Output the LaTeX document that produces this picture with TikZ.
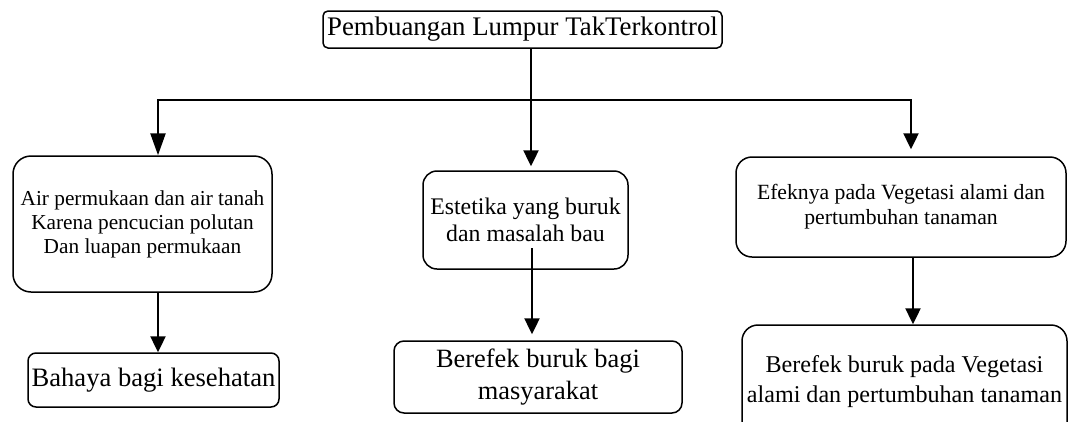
\documentclass[tikz,border=0pt]{standalone}
\usepackage{fontspec}
\setmainfont{Liberation Serif}
\usetikzlibrary{arrows.meta}
\begin{document}
\begin{tikzpicture}[x=1pt,y=-1pt,
  box/.style={draw,line width=1.5pt,align=center,inner sep=0pt,anchor=center},
  conn/.style={line width=2.4pt},
  arr/.style={line width=2.4pt,-{Triangle[width=15pt,length=16pt]}}]
\useasboundingbox (0,0) rectangle (1069,421);
\node[box,rounded corners=5pt,minimum width=399pt,minimum height=37pt,
  font=\fontsize{26.8}{29}\selectfont] (top) at (522.5,29.5) {Pembuangan Lumpur TakTerkontrol};
\node[box,rounded corners=18pt,minimum width=259pt,minimum height=136pt,
  font=\fontsize{21.3}{24}\selectfont] (l1) at (142.5,224) {Air permukaan dan air tanah\\Karena pencucian polutan\\Dan luapan permukaan};
\node[box,rounded corners=8pt,minimum width=251pt,minimum height=54pt,
  font=\fontsize{26.6}{30}\selectfont] (l2) at (153.5,380) {Bahaya bagi kesehatan};
\node[box,rounded corners=14pt,minimum width=205pt,minimum height=98pt,
  font=\fontsize{23.8}{27}\selectfont] (m1) at (525.5,220) {Estetika yang buruk\\dan masalah bau};
\node[box,rounded corners=10pt,minimum width=288pt,minimum height=72pt,
  font=\fontsize{26.4}{32}\selectfont] (m2) at (538,377) {Berefek buruk bagi\\masyarakat};
\node[box,rounded corners=16pt,minimum width=330pt,minimum height=100pt,
  font=\fontsize{21.7}{25}\selectfont] (r1) at (901,207) {Efeknya pada Vegetasi alami dan\\pertumbuhan tanaman};
\node[box,rounded corners=16pt,minimum width=325pt,minimum height=114pt,
  font=\fontsize{24.1}{30}\selectfont] (r2) at (904.5,382) {Berefek buruk pada Vegetasi\\alami dan pertumbuhan tanaman};
\coordinate (hub) at (531,100);
\coordinate (hl) at (158,100);
\coordinate (hr) at (911,100);
\coordinate (ms) at (532,248);
\coordinate (rs) at (913,0);
\draw[line width=1.5pt] (top.south -| hub) -- (hub);
\draw[conn,line cap=rect] (hl) -- (hr);
\draw[line width=2.4pt,-{Triangle[width=15pt,length=22pt]}] (hl) -- (l1.north -| hl);
\draw[arr,shorten >=4pt] (hub) -- (m1.north -| hub);
\draw[arr,shorten >=7pt] (hr) -- (r1.north -| hr);
\draw[arr] (l1.south -| hl) -- (l2.north -| hl);
\draw[arr,shorten >=6pt] (ms) -- (m2.north -| ms);
\draw[arr] (r1.south -| rs) -- (r2.north -| rs);
\end{tikzpicture}
\end{document}
